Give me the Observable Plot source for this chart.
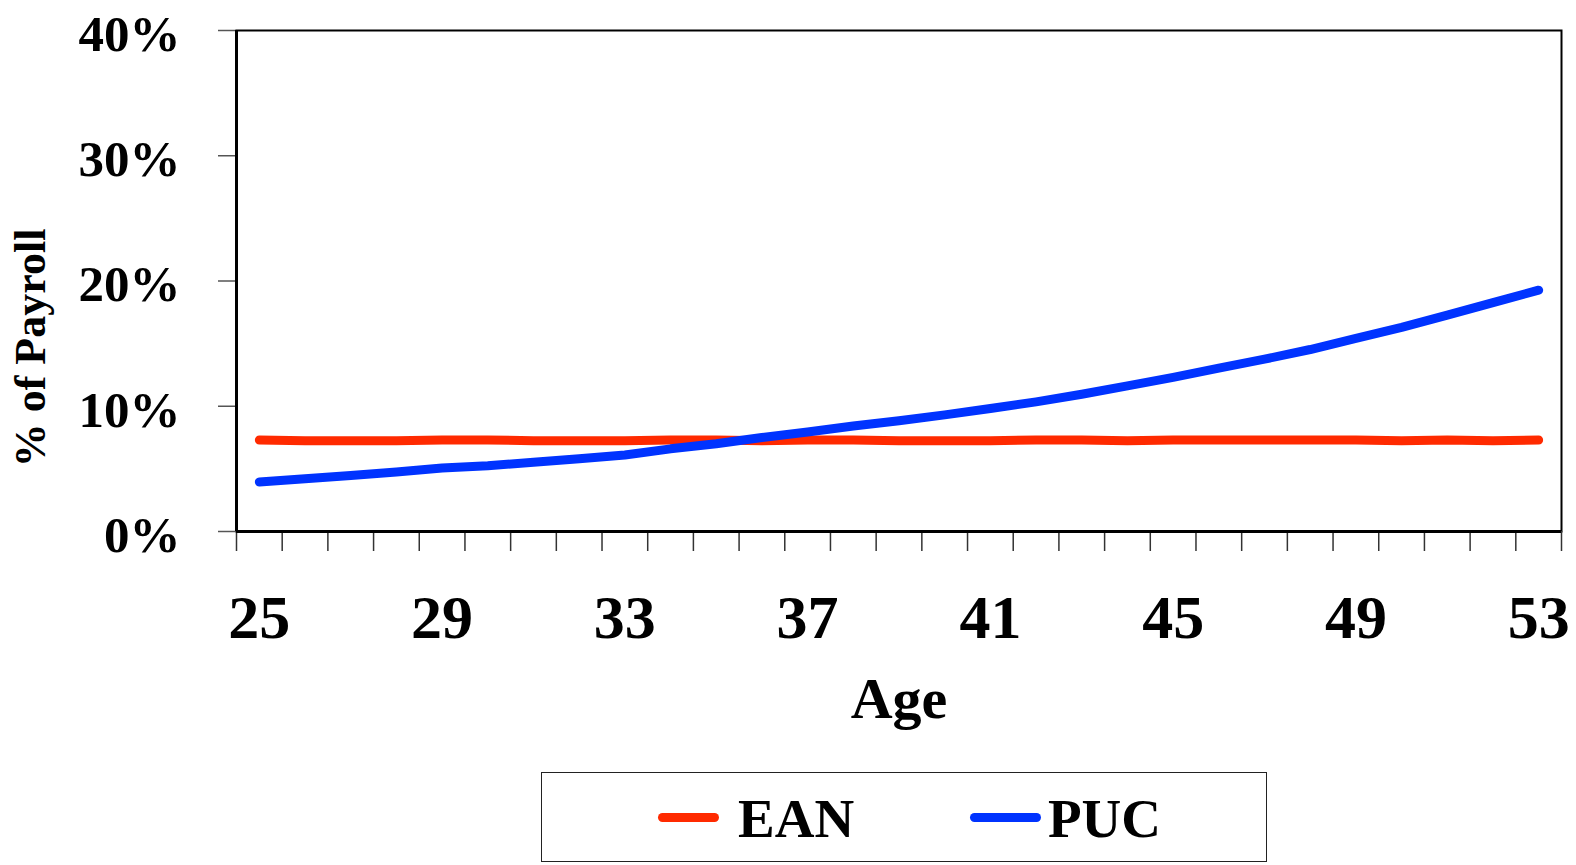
<!DOCTYPE html>
<html>
<head>
<meta charset="utf-8">
<script src="https://cdn.jsdelivr.net/npm/d3@7"></script>
<script src="https://cdn.jsdelivr.net/npm/@observablehq/plot@0.6"></script>
<style>
  html, body { margin: 0; padding: 0; background: #fff; }
  #wrap { position: relative; width: 1576px; height: 865px; overflow: hidden; }
  #legend {
    position: absolute; left: 541px; top: 772px; width: 726px; height: 90px;
    border: 1.5px solid #222; box-sizing: border-box; background: #fff;
    font-family: "Liberation Serif", "DejaVu Serif", serif; font-weight: bold; font-size: 55px; color: #000;
  }
  .sw { position: absolute; top: 40px; height: 9px; border-radius: 5px; }
  .lt { position: absolute; top: 45px; transform: translateY(-50%); line-height: 1; }
</style>
</head>
<body>
<div id="wrap">
  <div id="chart"></div>
  <div id="legend"></div>
</div>
<script>
const ages = [25,26,27,28,29,30,31,32,33,34,35,36,37,38,39,40,41,42,43,44,45,46,47,48,49,50,51,52,53];
const ean = [7.3,7.25,7.25,7.25,7.3,7.3,7.25,7.25,7.25,7.3,7.3,7.25,7.3,7.3,7.25,7.25,7.25,7.3,7.3,7.25,7.3,7.3,7.3,7.3,7.3,7.25,7.3,7.25,7.3];
const puc = [3.95,4.21,4.48,4.75,5.07,5.25,5.52,5.81,6.11,6.6,7.0,7.5,7.95,8.42,8.84,9.31,9.82,10.35,10.96,11.63,12.3,13.04,13.76,14.53,15.41,16.29,17.27,18.28,19.27];
const xLabelAges = [25,29,33,37,41,45,49,53];
const yTicks = [0,10,20,30,40];
const seriesNames = ["EAN","PUC"];
const seriesColors = ["#ff2a00","#0033ff"];

const eanData = ages.map((a,i) => ({age: a, v: ean[i]}));
const pucData = ages.map((a,i) => ({age: a, v: puc[i]}));
const bounds = ages.map(a => a - 0.5).concat([ages[ages.length-1] + 0.5]);

const font = '"Liberation Serif", "DejaVu Serif", serif';

const chart = Plot.plot({
  width: 1576,
  height: 760,
  marginLeft: 236,
  marginRight: 15,
  marginTop: 30,
  marginBottom: 229,
  style: {fontFamily: font, fontWeight: "bold", background: "#fff", color: "#000"},
  x: {type: "linear", domain: [bounds[0], bounds[bounds.length-1]], axis: null},
  y: {type: "linear", domain: [0, 40], axis: null},
  marks: [
    Plot.frame({stroke: "#000", strokeWidth: 2}),
    Plot.axisY({ticks: yTicks, tickSize: 18, tickFormat: () => "", label: null, stroke: "#555", strokeWidth: 1.5}),
    Plot.axisX({ticks: bounds, tickSize: 20, tickFormat: () => "", label: null, stroke: "#333", strokeWidth: 1.5}),
    Plot.ruleY([0], {stroke: "#000", strokeWidth: 3}),
    Plot.ruleX([bounds[0]], {stroke: "#000", strokeWidth: 3}),
    Plot.text(yTicks, {y: d => d, frameAnchor: "left", dx: -56, dy: 4, text: d => d + "%", textAnchor: "end", lineAnchor: "middle", fontSize: 51, fontWeight: "bold", fill: "#000"}),
    Plot.text(xLabelAges, {x: d => d, frameAnchor: "bottom", dy: 87, text: d => String(d), textAnchor: "middle", lineAnchor: "middle", fontSize: 62, fontWeight: "bold", fill: "#000"}),
    Plot.text(["Age"], {frameAnchor: "bottom", dy: 168, text: d => d, textAnchor: "middle", lineAnchor: "middle", fontSize: 58, fontWeight: "bold", fill: "#000"}),
    Plot.text(["% of Payroll"], {frameAnchor: "left", dx: -206, dy: 67, rotate: -90, text: d => d, textAnchor: "middle", lineAnchor: "middle", fontSize: 44, fontWeight: "bold", fill: "#000"}),
    Plot.line(eanData, {x: "age", y: "v", stroke: seriesColors[0], strokeWidth: 9, strokeLinecap: "round", strokeLinejoin: "round"}),
    Plot.line(pucData, {x: "age", y: "v", stroke: seriesColors[1], strokeWidth: 9, strokeLinecap: "round", strokeLinejoin: "round"})
  ]
});
document.getElementById("chart").appendChild(chart);

const legend = document.getElementById("legend");
const swLeft = [116, 428];
const swWidth = [61, 71];
const txtLeft = [196, 506];
seriesNames.forEach((name, i) => {
  const sw = document.createElement("div");
  sw.className = "sw";
  sw.style.left = swLeft[i] + "px";
  sw.style.width = swWidth[i] + "px";
  sw.style.background = seriesColors[i];
  legend.appendChild(sw);
  const t = document.createElement("div");
  t.className = "lt";
  t.style.left = txtLeft[i] + "px";
  t.textContent = name;
  legend.appendChild(t);
});
</script>
</body>
</html>
